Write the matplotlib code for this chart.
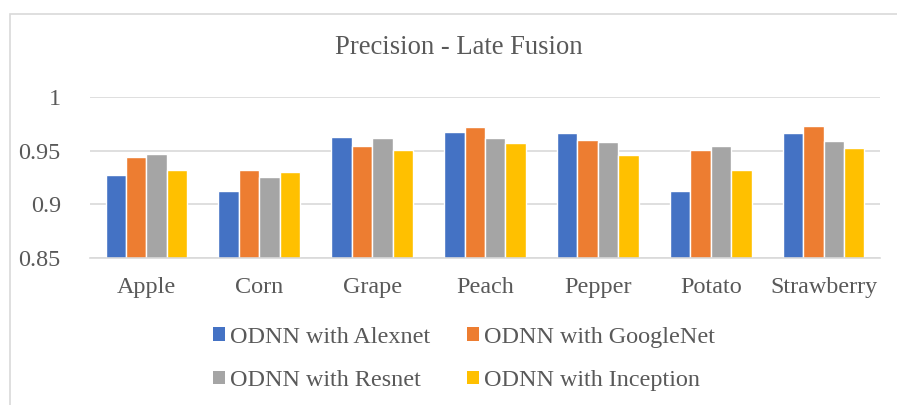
#!/usr/bin/env python3
"""Precision of late-fusion ODNN variants per crop."""
import numpy as np
import matplotlib
matplotlib.use('Agg')
import matplotlib.pyplot as plt
import matplotlib.patches as mpatches

CROPS = ['Apple', 'Corn', 'Grape', 'Peach', 'Pepper', 'Potato', 'Strawberry']
SERIES = ['ODNN with Alexnet', 'ODNN with GoogleNet',
          'ODNN with Resnet', 'ODNN with Inception']
ALEXNET = [0.927, 0.912, 0.963, 0.968, 0.967, 0.912, 0.967]
GOOGLENET = [0.944, 0.932, 0.954, 0.972, 0.960, 0.951, 0.973]
RESNET = [0.947, 0.925, 0.962, 0.962, 0.958, 0.954, 0.959]
INCEPTION = [0.932, 0.930, 0.951, 0.957, 0.946, 0.932, 0.953]
COLORS = ['#4472C4', '#ED7D31', '#A5A5A5', '#FFC000']

TEXT = '#595959'
GRID = '#D9D9D9'
FS = 17.4

plt.rcParams['font.family'] = ['Liberation Serif', 'DejaVu Serif']

fig = plt.figure(figsize=(8.97, 4.05), dpi=100)
ax = fig.add_axes([90 / 897, 1 - 257.7 / 405, 790 / 897, 160.4 / 405])

# chart frame (right and bottom edges fall outside the canvas)
fig.patches.append(mpatches.Rectangle((10 / 897, -0.1), 1.2, 1 - 13.5 / 405 + 0.1,
                                      transform=fig.transFigure, fill=False,
                                      edgecolor=GRID, linewidth=1.2))

x = np.arange(len(CROPS))
step = 0.181
for i, (vals, name, col) in enumerate(zip([ALEXNET, GOOGLENET, RESNET, INCEPTION],
                                          SERIES, COLORS)):
    ax.bar(x + (i - 1.5) * step, vals, width=step, color=col, label=name,
           edgecolor='white', linewidth=1.0, zorder=3)

ax.set_xlim(-0.5, len(CROPS) - 0.5)
ax.set_ylim(0.85, 1.0)
ax.set_yticks([0.85, 0.9, 0.95, 1.0])
ax.set_yticklabels(['0.85', '0.9', '0.95', '1'])
ax.set_xticks(x)
ax.set_xticklabels(CROPS)
ax.tick_params(axis='both', length=0, labelsize=FS, colors=TEXT)
ax.tick_params(axis='y', pad=21)
ax.tick_params(axis='x', pad=14)
ax.grid(axis='y', color=GRID, linewidth=1.2, zorder=0)
for side in ['left', 'right', 'top']:
    ax.spines[side].set_visible(False)
ax.spines['bottom'].set_color(GRID)
ax.spines['bottom'].set_linewidth(1.2)
ax.spines['bottom'].set_zorder(4)

fig.text(459 / 897, 1 - 48 / 405, 'Precision - Late Fusion', ha='center',
         va='center', fontsize=19.2, color=TEXT)

# legend filled row by row: two entries per row
order = [0, 2, 1, 3]
handles = [mpatches.Patch(facecolor=COLORS[k], edgecolor='white', linewidth=0)
           for k in order]
leg = fig.legend(handles, [SERIES[k] for k in order], loc='center',
                 bbox_to_anchor=(464 / 897, 1 - 359 / 405), ncol=2,
                 frameon=False, fontsize=FS, handlelength=0.5, handleheight=0.5,
                 handletextpad=0.22, columnspacing=1.5, labelspacing=0.92)
for t in leg.get_texts():
    t.set_color(TEXT)

fig.savefig('out.png', dpi=100)
